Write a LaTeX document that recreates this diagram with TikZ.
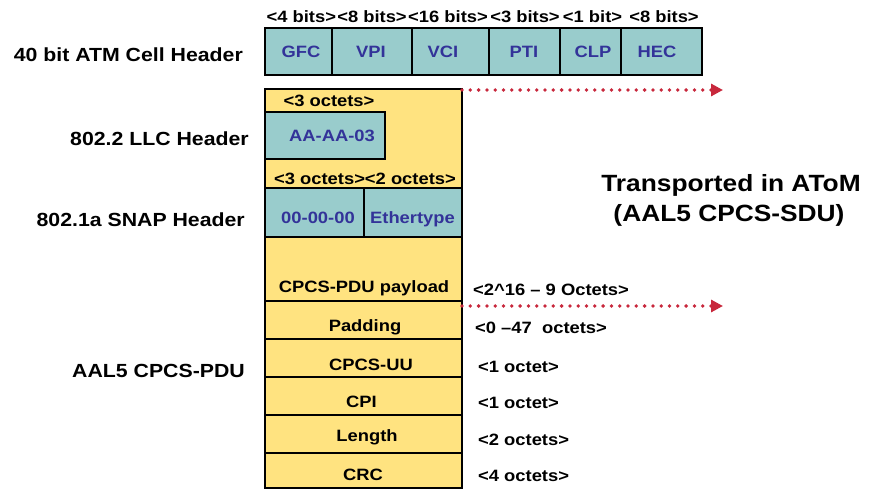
\documentclass[tikz,border=0pt]{standalone}
\usepackage{fontspec}
\setmainfont{Liberation Sans}[FakeStretch=1.12]
\usetikzlibrary{arrows.meta}
\definecolor{fieldteal}{RGB}{153,204,204}
\definecolor{pduyellow}{RGB}{255,227,128}
\definecolor{fieldblue}{RGB}{51,51,153}
\definecolor{arrowred}{RGB}{200,40,60}
\begin{document}
\begin{tikzpicture}[x=1pt,y=-1pt,
  cellbox/.style={draw=black, line width=2.9pt, fill=fieldteal, inner sep=0pt, outer sep=0pt},
  rowbox/.style={draw=black, line width=2.9pt, fill=pduyellow, inner sep=0pt, outer sep=0pt},
  fieldtxt/.style={anchor=base, inner sep=0pt, text=fieldblue, font=\fontsize{16.4}{18}\selectfont\bfseries},
  sizetxt/.style={anchor=base, inner sep=0pt, font=\fontsize{16.4}{18}\selectfont\bfseries},
  sidetxt/.style={anchor=base west, inner sep=0pt, font=\fontsize{16.4}{18}\selectfont\bfseries},
  headtxt/.style={anchor=base east, inner sep=0pt, font=\fontsize{19}{22}\selectfont\bfseries},
  titletxt/.style={anchor=base, inner sep=0pt, font=\fontsize{23.5}{26}\selectfont\bfseries},
  reddots/.style={draw=arrowred, line width=3.8pt, line cap=round, dash pattern=on 0pt off 8.3pt,
                  -{Triangle[length=12pt,width=12pt]}, shorten >=-1pt}
]
\useasboundingbox (0,0) rectangle (870,489);

% ---- 40 bit ATM cell header ----
\foreach \nm/\xa/\xb in {gfc/265/332, vpi/332/412, vci/412/489, pti/489/560, clp/560/621, hec/621/702}{
  \node[cellbox, minimum width=\xb-\xa, minimum height=47] (\nm) at ({(\xa+\xb)/2},51.5) {};
}
\node[fieldtxt] (gfct) at (301,58) {GFC};
\node[fieldtxt] (vpit) at (371,58) {VPI};
\node[fieldtxt] (vcit) at (443,58) {VCI};
\node[fieldtxt] (ptit) at (524,58) {PTI};
\node[fieldtxt] (clpt) at (593,58) {CLP};
\node[fieldtxt] (hect) at (657,58) {HEC};

\node[sizetxt] (b1) at (301.3,22.7) {<4 bits>};
\node[sizetxt] (b2) at (372,22.7) {<8 bits>};
\node[sizetxt] (b3) at (448,22.7) {<16 bits>};
\node[sizetxt] (b4) at (525,22.7) {<3 bits>};
\node[sizetxt] (b5) at (592.5,22.7) {<1 bit>};
\node[sizetxt] (b6) at (664,22.7) {<8 bits>};

% ---- CPCS-SDU: LLC + SNAP + payload ----
\node[rowbox, minimum width=197, minimum height=212] (sdu) at (363.5,195) {};
\node[cellbox, minimum width=120, minimum height=47] (llc) at (325,135.5) {};
\node[cellbox, minimum width=99, minimum height=49] (oui) at (314.5,212.5) {};
\node[cellbox, minimum width=98, minimum height=49] (etype) at (413,212.5) {};

\node[sizetxt] (llcsize) at (329,106.7) {<3 octets>};
\node[fieldtxt] (llct) at (332,141.7) {AA-AA-03};
\node[sizetxt] (snapsize) at (365,185) {<3 octets><2 octets>};
\node[fieldtxt] (ouit) at (318,224) {00-00-00};
\node[fieldtxt] (etypet) at (412.5,224) {Ethertype};
\node[sizetxt] (paylt) at (364,292) {CPCS-PDU payload};

% ---- AAL5 trailer rows ----
\node[rowbox, minimum width=197, minimum height=38] (pad) at (363.5,320) {};
\node[rowbox, minimum width=197, minimum height=38] (uu) at (363.5,358) {};
\node[rowbox, minimum width=197, minimum height=38] (cpi) at (363.5,396) {};
\node[rowbox, minimum width=197, minimum height=38] (len) at (363.5,434) {};
\node[rowbox, minimum width=197, minimum height=35] (crc) at (363.5,470.5) {};

\node[sizetxt] (padt) at (365,331) {Padding};
\node[sizetxt] (uut) at (371,370) {CPCS-UU};
\node[sizetxt] (cpit) at (361.5,407) {CPI};
\node[sizetxt] (lent) at (367,441) {Length};
\node[sizetxt] (crct) at (363,480) {CRC};

\node[sidetxt] (s1) at (473,295) {<2\textasciicircum16 – 9 Octets>};
\node[sidetxt] (s2) at (475,333) {<0 –47\ \ octets>};
\node[sidetxt] (s3) at (478,372) {<1 octet>};
\node[sidetxt] (s4) at (478,408) {<1 octet>};
\node[sidetxt] (s5) at (478,445) {<2 octets>};
\node[sidetxt] (s6) at (478,481) {<4 octets>};

% ---- left-hand headings ----
\node[headtxt] (h1) at (243,62) {40 bit ATM Cell Header};
\node[headtxt] (h2) at (249,146) {802.2 LLC Header};
\node[headtxt] (h3) at (245,227) {802.1a SNAP Header};
\node[headtxt] (h4) at (245,377) {AAL5 CPCS-PDU};

% ---- transported part ----
\node[titletxt] (tr1) at (731,192) {Transported in AToM};
\node[titletxt] (tr2) at (729,222) {(AAL5 CPCS-SDU)};

\coordinate (topstart) at (462,90);
\coordinate (topend) at (722,90);
\coordinate (botstart) at (462,306);
\coordinate (botend) at (722,306);
\draw[reddots] (topstart) -- (topend);
\draw[reddots] (botstart) -- (botend);
\end{tikzpicture}
\end{document}
